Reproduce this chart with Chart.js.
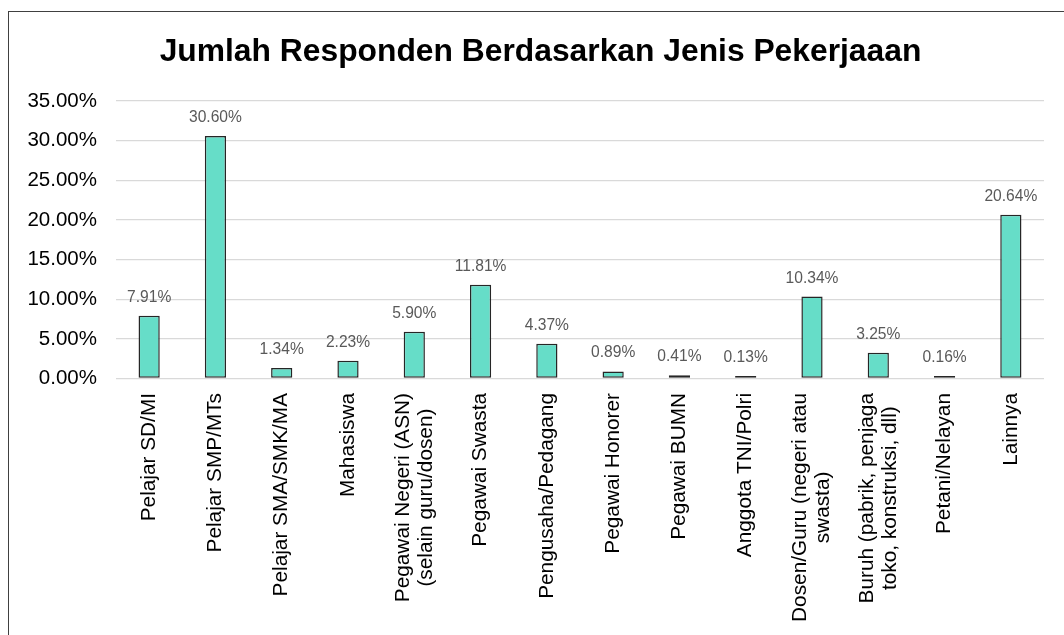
<!DOCTYPE html>
<html>
<head>
<meta charset="utf-8">
<script src="https://cdn.jsdelivr.net/npm/chart.js@4.4.0/dist/chart.umd.min.js"></script>
<style>
  body { margin: 0; background: #fff; overflow: hidden; }
  #frame { position: absolute; left: 8px; top: 11px; width: 2000px; height: 2000px; border: 1px solid #404040; }
  #job_chart { position: absolute; left: 0; top: 0; }
</style>
</head>
<body>
<div id="frame"></div>
<canvas id="job_chart" width="1064" height="635"></canvas>
<script>
const categories = [
    ['Pelajar SD/MI'],
    ['Pelajar SMP/MTs'],
    ['Pelajar SMA/SMK/MA'],
    ['Mahasiswa'],
    ['Pegawai Negeri (ASN)', '(selain guru/dosen)'],
    ['Pegawai Swasta'],
    ['Pengusaha/Pedagang'],
    ['Pegawai Honorer'],
    ['Pegawai BUMN'],
    ['Anggota TNI/Polri'],
    ['Dosen/Guru (negeri atau', 'swasta)'],
    ['Buruh (pabrik, penjaga', 'toko, konstruksi, dll)'],
    ['Petani/Nelayan'],
    ['Lainnya']
];
const percents = [7.91, 30.60, 1.34, 2.23, 5.90, 11.81, 4.37, 0.89, 0.41, 0.13, 10.34, 3.25, 0.16, 20.64];
const yTicks = [0, 5, 10, 15, 20, 25, 30, 35];
const chartTitle = 'Jumlah Responden Berdasarkan Jenis Pekerjaaan';

const FONT = "'Liberation Sans', Arial, sans-serif";

// title, drawn centred on the outer frame rather than the padded box
const titlePlugin = {
    id: 'titlePlugin',
    afterDraw(chart) {
        const ctx = chart.ctx;
        ctx.save();
        ctx.font = 'bold 31.8px ' + FONT;
        ctx.fillStyle = '#000';
        ctx.textAlign = 'center';
        ctx.textBaseline = 'middle';
        ctx.fillText(chartTitle, 540.5, 52);
        ctx.restore();
    }
};

// value labels above each bar
const barLabels = {
    id: 'barLabels',
    afterDatasetsDraw(chart) {
        const ctx = chart.ctx;
        const meta = chart.getDatasetMeta(0);
        const base = chart.scales.y.getPixelForValue(0);
        ctx.save();
        ctx.font = '15.6px ' + FONT;
        ctx.fillStyle = '#595959';
        ctx.textAlign = 'center';
        ctx.textBaseline = 'alphabetic';
        meta.data.forEach((bar, i) => {
            const top = Math.min(bar.y, base - 1);
            ctx.fillText(percents[i].toFixed(2) + '%', bar.x, top - 14);
        });
        ctx.restore();
    }
};

// rotated category labels, lines centred on each other
const catLabels = {
    id: 'catLabels',
    afterDraw(chart) {
        const ctx = chart.ctx;
        const xs = chart.scales.x;
        const top = chart.chartArea.bottom + 14.5;
        const lh = 23;
        ctx.save();
        ctx.font = '20.8px ' + FONT;
        ctx.fillStyle = '#000';
        ctx.textBaseline = 'middle';
        ctx.textAlign = 'center';
        categories.forEach((lines, i) => {
            const x = xs.getPixelForTick(i);
            const w = Math.max(...lines.map(l => ctx.measureText(l).width));
            ctx.save();
            ctx.translate(x, top);
            ctx.rotate(-Math.PI / 2);
            lines.forEach((l, k) => {
                ctx.fillText(l, -w / 2, (k - (lines.length - 1) / 2) * lh);
            });
            ctx.restore();
        });
        ctx.restore();
    }
};

new Chart(document.getElementById('job_chart'), {
    type: 'bar',
    data: {
        labels: categories,
        datasets: [{
            data: percents,
            backgroundColor: '#66DDC8',
            borderColor: '#262626',
            borderWidth: 1.5,
            borderSkipped: false,
            categoryPercentage: 1,
            barPercentage: 0.32,
            minBarLength: 2.5
        }]
    },
    options: {
        responsive: false,
        animation: false,
        layout: {
            padding: { left: 26, right: 20, top: 101, bottom: 256.5 }
        },
        plugins: {
            legend: { display: false },
            tooltip: { enabled: false },
            title: { display: false }
        },
        scales: {
            x: {
                ticks: { display: false },
                grid: { display: false },
                border: { display: false },
                afterFit: s => { s.height = 0; }
            },
            y: {
                min: 0,
                max: 35,
                afterBuildTicks: s => { s.ticks = yTicks.map(v => ({ value: v })); },
                afterFit: s => { s.width = 90; },
                border: { display: false },
                grid: { color: '#d9d9d9', lineWidth: 1.3, drawTicks: false },
                ticks: {
                    padding: 19,
                    color: '#000',
                    font: { family: FONT, size: 20.5 },
                    callback: v => v.toFixed(2) + '%'
                }
            }
        }
    },
    plugins: [titlePlugin, barLabels, catLabels]
});
</script>
</body>
</html>
